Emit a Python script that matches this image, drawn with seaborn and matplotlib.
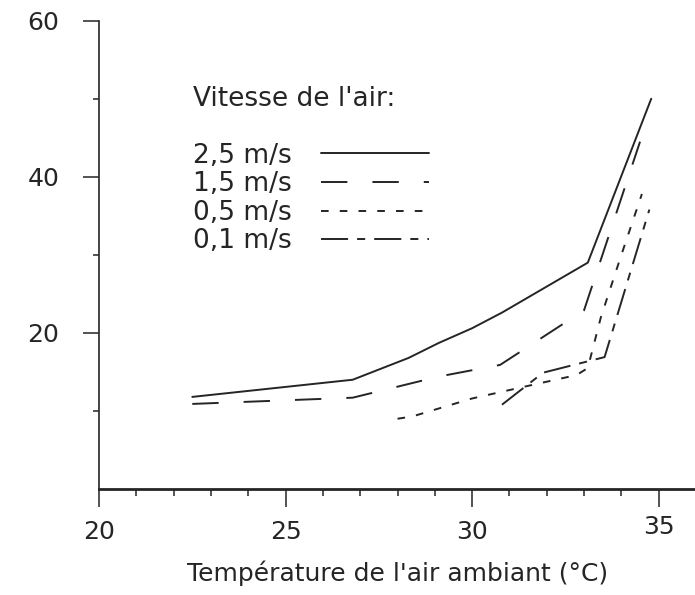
import matplotlib
matplotlib.use("Agg")
import matplotlib.pyplot as plt
import matplotlib.transforms as mtransforms
import seaborn as sns
import pandas as pd
from matplotlib.ticker import MultipleLocator, FixedLocator

# ---- data ----
x_25 = [22.5, 26.8, 28.3, 29.1, 30.0, 30.8, 33.1, 34.8]
y_25 = [11.8, 14.0, 16.8, 18.7, 20.6, 22.6, 29.0, 50.0]
x_15 = [22.5, 26.8, 29.1, 30.75, 33.0, 34.5]
y_15 = [10.9, 11.7, 14.4, 15.9, 22.9, 44.5]
x_05 = [28.0, 28.4, 30.0, 31.3, 32.8, 33.1, 33.45, 34.0, 34.55]
y_05 = [9.0, 9.3, 11.6, 13.0, 14.6, 15.5, 22.0, 30.0, 37.8]
x_01 = [30.8, 31.9, 33.55, 34.75]
y_01 = [10.8, 14.9, 16.9, 35.8]
series_labels = ["2,5 m/s", "1,5 m/s", "0,5 m/s", "0,1 m/s"]
legend_title = "Vitesse de l'air:"
x_title = "Température de l'air ambiant (°C)"
x_ticks = [20, 25, 30, 35]
y_ticks = [20, 40, 60]
y_minor = [10, 30, 50]

frames = []
for lab, xs, ys in zip(series_labels, [x_25, x_15, x_05, x_01], [y_25, y_15, y_05, y_01]):
    frames.append(pd.DataFrame({"temp": xs, "val": ys, "vitesse": lab}))
df = pd.concat(frames, ignore_index=True)

sns.set_theme(style="ticks")
plt.rcParams["font.family"] = ["DejaVu Sans"]
plt.rcParams["lines.scale_dashes"] = False

ink = "#252525"
fig = plt.figure(figsize=(6.95, 5.95), dpi=100)
ax = fig.add_axes([99 / 695, 106 / 595, 597 / 695, (489 - 20.7) / 595])

dash_map = {
    "2,5 m/s": "",
    "1,5 m/s": (19, 18),
    "0,5 m/s": (5.5, 8),
    "0,1 m/s": (19.5, 6.5, 5.8, 6.5),
}
sns.lineplot(data=df, x="temp", y="val", style="vitesse", style_order=series_labels,
             dashes=dash_map, color=ink, linewidth=1.4, sort=False, estimator=None,
             legend=False, ax=ax)

ax.set_xlim(20, 36)
ax.set_ylim(0, 60)
sns.despine(ax=ax)
for s in ["left", "bottom"]:
    ax.spines[s].set_color(ink)
ax.spines["left"].set_linewidth(1.2)
ax.spines["bottom"].set_linewidth(2.0)

ax.xaxis.set_major_locator(FixedLocator(x_ticks))
ax.xaxis.set_minor_locator(MultipleLocator(1))
ax.yaxis.set_major_locator(FixedLocator(y_ticks))
ax.yaxis.set_minor_locator(FixedLocator(y_minor))
ax.tick_params(axis="x", which="major", length=13, width=1.1, color=ink, pad=9,
               labelsize=18, labelcolor=ink)
ax.tick_params(axis="x", which="minor", length=5, width=1.1, color=ink)
ax.tick_params(axis="y", which="major", length=11.5, width=1.1, color=ink, pad=17,
               labelsize=18, labelcolor=ink)
ax.tick_params(axis="y", which="minor", length=4.3, width=1.1, color=ink)

ax.set_xlabel(x_title, fontsize=18, color=ink, labelpad=12)
ax.set_ylabel("")

# the "35" label sits a little higher in the reference
lbls = ax.get_xticklabels()
lbls[-1].set_transform(lbls[-1].get_transform() +
                       mtransforms.ScaledTranslation(0, 5 / 100, fig.dpi_scale_trans))

handles = ax.get_lines()[:4]
leg = ax.legend(handles, series_labels, title=legend_title, loc="upper left",
                bbox_to_anchor=(193 / 695, 1 - 86 / 595), bbox_transform=fig.transFigure,
                frameon=False, markerfirst=False, alignment="left",
                fontsize=19, title_fontsize=19, handlelength=4.1, handletextpad=1.1,
                labelspacing=0.1, borderpad=0, borderaxespad=0)
for t in leg.get_texts():
    t.set_color(ink)
leg.get_title().set_color(ink)
leg._legend_box.sep = 22

fig.savefig("out.png", dpi=100, facecolor="white")
